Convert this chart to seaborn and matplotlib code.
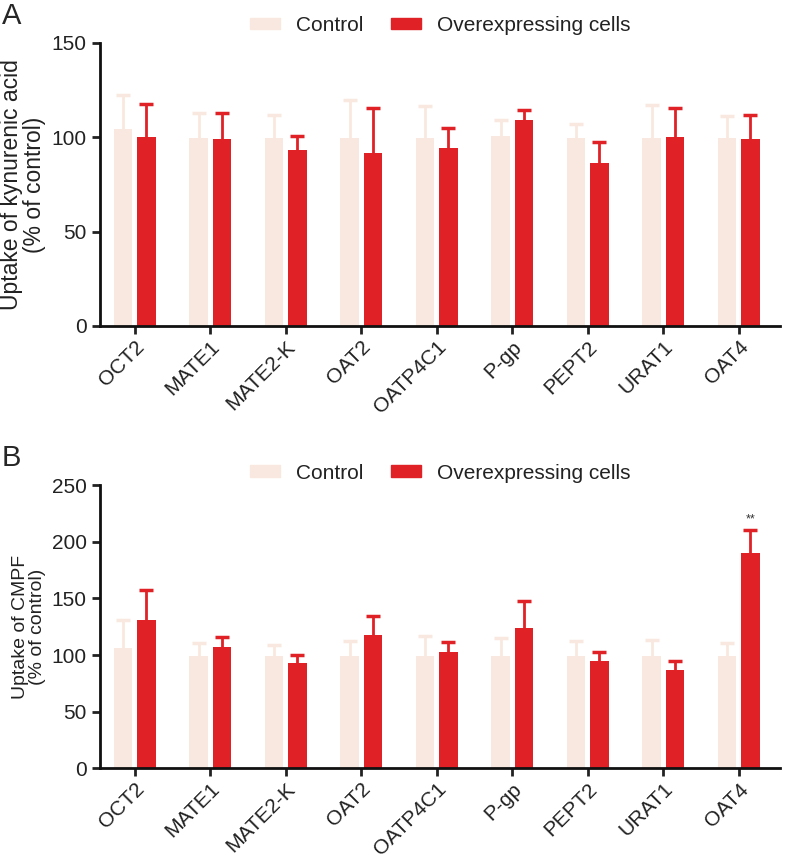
import matplotlib
matplotlib.use('Agg')
import matplotlib.pyplot as plt
import matplotlib.patches as mpatches
import seaborn as sns
import pandas as pd
import numpy as np

# Data (mean and upper error, % of control)
transporters = ['OCT2', 'MATE1', 'MATE2-K', 'OAT2', 'OATP4C1', 'P-gp', 'PEPT2', 'URAT1', 'OAT4']
groups = ['Control', 'Overexpressing cells']

kyna_control = [104.3, 99.5, 99.5, 99.5, 99.5, 100.9, 99.5, 99.5, 99.5]
kyna_control_err = [18.0, 13.6, 12.2, 20.5, 17.2, 8.1, 7.6, 17.7, 11.8]
kyna_over = [100.4, 99.1, 93.3, 91.7, 94.1, 109.2, 86.2, 100.4, 99.1]
kyna_over_err = [17.5, 13.9, 7.2, 24.1, 10.8, 5.5, 11.1, 15.0, 12.6]

cmpf_control = [105.9, 99.1, 99.4, 99.1, 99.4, 99.4, 99.1, 99.4, 99.4]
cmpf_control_err = [25.0, 11.5, 9.4, 12.9, 17.1, 15.6, 12.9, 13.5, 11.5]
cmpf_over = [130.9, 106.8, 92.6, 117.4, 102.4, 124.1, 94.7, 87.1, 190.0]
cmpf_over_err = [26.5, 9.4, 7.1, 17.3, 9.4, 23.3, 7.7, 7.9, 20.6]

colors = ['#F9E8DF', '#E02126']

sns.set_style('ticks')
plt.rcParams['font.family'] = ['Liberation Sans', 'DejaVu Sans']


def make_df(ctrl, over):
    return pd.DataFrame({
        'transporter': transporters * 2,
        'group': [groups[0]] * len(transporters) + [groups[1]] * len(transporters),
        'value': list(ctrl) + list(over),
    })


def draw_panel(ax, ctrl, ctrl_err, over, over_err, ymax, ylabel, label_size, leg_y):
    df = make_df(ctrl, over)
    sns.barplot(data=df, x='transporter', y='value', hue='group', palette=colors,
                width=0.62, gap=0.2, errorbar=None, ax=ax, legend=False,
                saturation=1, linewidth=0)
    # upper-only error bars, no cap at the bar top
    for cont, errs, col in zip(ax.containers, [ctrl_err, over_err], colors):
        xs = [b.get_x() + b.get_width() / 2 for b in cont]
        hs = [b.get_height() for b in cont]
        eb = ax.errorbar(xs, hs, yerr=[np.zeros(len(errs)), errs], fmt='none',
                         ecolor=col, elinewidth=2, capsize=5, capthick=2.5)
        eb[1][0].set_visible(False)
    ax.set_xlim(-0.46, 8.55)
    ax.set_ylim(0, ymax)
    ax.set_yticks(np.arange(0, ymax + 1, 50))
    ax.set_xlabel('')
    ax.set_ylabel(ylabel, fontsize=label_size, linespacing=1.0, color='#222222')
    sns.despine(ax=ax)
    for s in ['left', 'bottom']:
        ax.spines[s].set_linewidth(2)
        ax.spines[s].set_color('#111111')
    ax.tick_params(axis='both', width=2, length=6, color='#111111')
    ax.tick_params(axis='y', labelsize=15, colors='#222222')
    ax.tick_params(axis='x', labelsize=15, colors='#222222', pad=2)
    for t in ax.get_xticklabels():
        t.set_rotation(45)
        t.set_ha('right')
        t.set_rotation_mode('anchor')
    handles = [mpatches.Patch(color=c, label=g) for c, g in zip(colors, groups)]
    ax.legend(handles=handles, ncol=2, loc='center', bbox_to_anchor=(0.5, leg_y),
              frameon=False, fontsize=15, handlelength=1.45, handleheight=0.5,
              columnspacing=1.35, handletextpad=0.75, labelcolor='#222222')


fig = plt.figure(figsize=(7.85, 8.6), dpi=100)
axA = fig.add_axes([0.1274, 0.621, 0.8666, 0.329])
axB = fig.add_axes([0.1274, 0.1066, 0.8666, 0.3294])

draw_panel(axA, kyna_control, kyna_control_err, kyna_over, kyna_over_err, 150,
           'Uptake of kynurenic acid\n(% of control)', 16.5, 1.062)
draw_panel(axB, cmpf_control, cmpf_control_err, cmpf_over, cmpf_over_err, 250,
           'Uptake of CMPF\n(% of control)', 14, 1.042)

# significance mark above OAT4
oat4_bar = axB.containers[1][len(transporters) - 1]
axB.text(oat4_bar.get_x() + oat4_bar.get_width() / 2,
         cmpf_over[-1] + cmpf_over_err[-1] + 4, '**',
         ha='center', va='bottom', fontsize=9, color='#333333')

fig.text(0.002, 0.998, 'A', fontsize=21, va='top', ha='left')
fig.text(0.002, 0.484, 'B', fontsize=21, va='top', ha='left')

fig.savefig('out.png', dpi=100)
